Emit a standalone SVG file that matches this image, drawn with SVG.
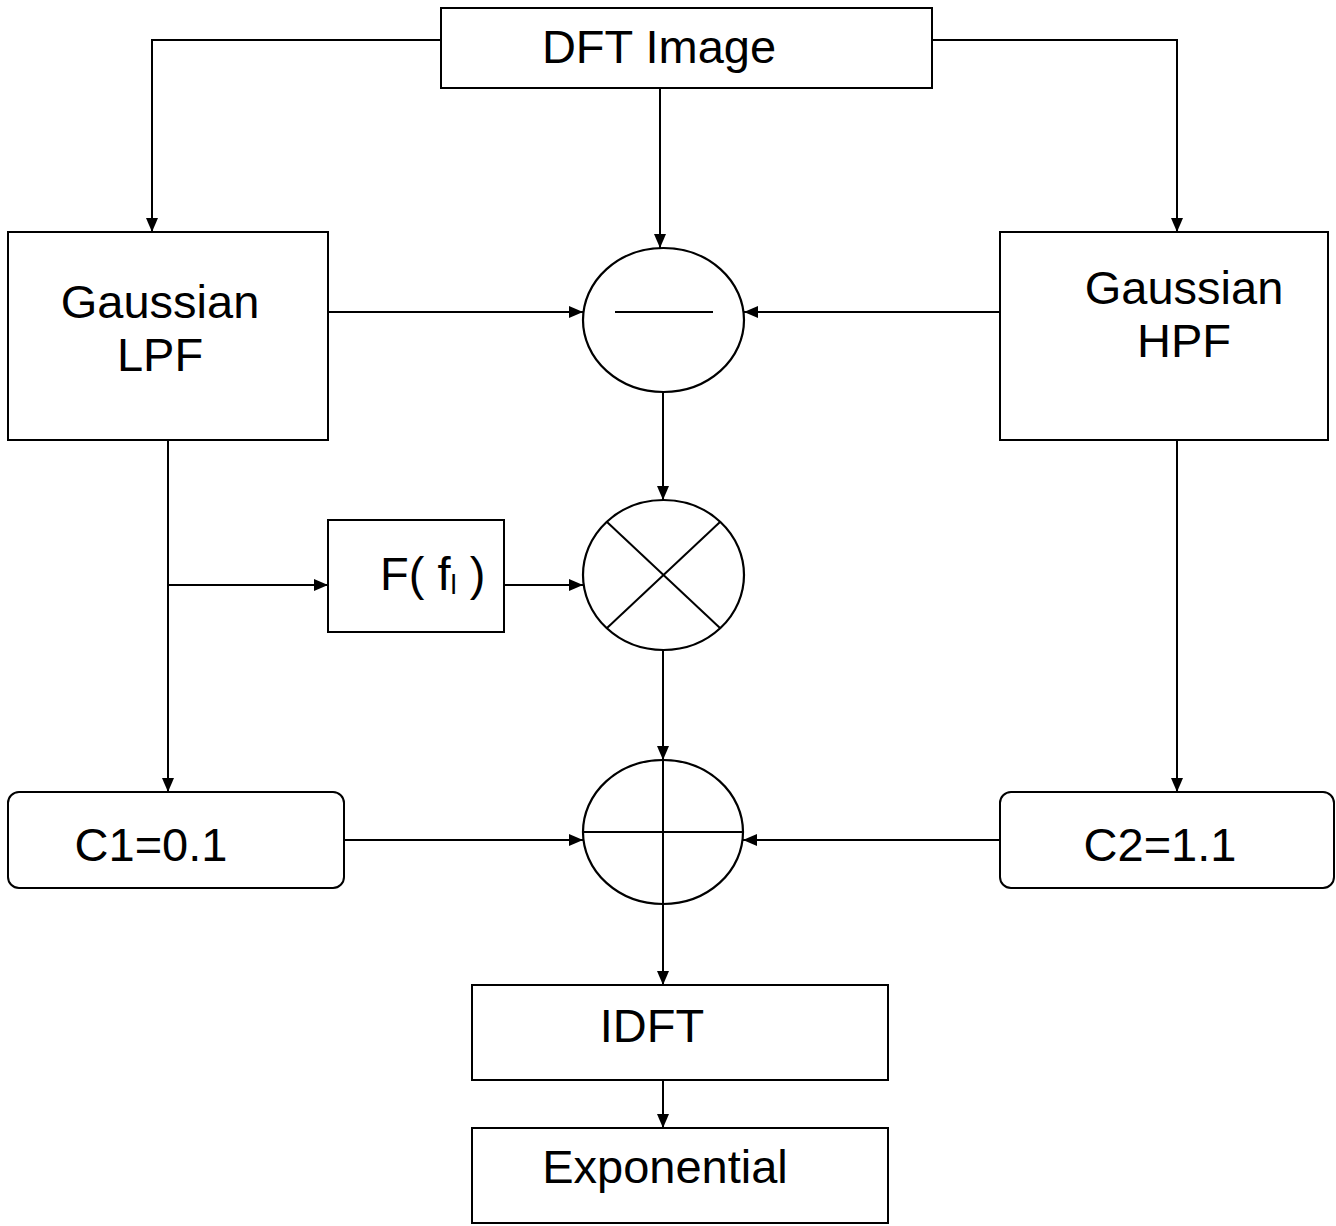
<svg xmlns="http://www.w3.org/2000/svg" width="1336" height="1226" viewBox="0 0 1336 1226">
  <defs>
    <marker id="arrow" viewBox="0 0 14 12" refX="14" refY="6" markerWidth="14" markerHeight="12" markerUnits="userSpaceOnUse" orient="auto">
      <path d="M0,0 L14,6 L0,12 Z" fill="#000"/>
    </marker>
  </defs>
  <style>
    .box { fill: #fff; stroke: #000; stroke-width: 2; }
    .op { fill: #fff; stroke: #000; stroke-width: 2.2; }
    .sym { stroke: #000; stroke-width: 2; fill: none; }
    .wire { stroke: #000; stroke-width: 2; fill: none; }
    .arr { marker-end: url(#arrow); }
    text { font-family: "Liberation Sans", Arial, sans-serif; font-size: 47px; fill: #000; text-anchor: middle; }
  </style>
  <rect width="1336" height="1226" fill="#fff"/>

  <g id="connectors">
    <polyline class="wire arr" points="441,40 152,40 152,232"/>
    <polyline class="wire arr" points="932,40 1177,40 1177,232"/>
    <line class="wire arr" x1="660" y1="88" x2="660" y2="248"/>
    <line class="wire arr" x1="328" y1="312" x2="583" y2="312"/>
    <line class="wire arr" x1="1000" y1="312" x2="744" y2="312"/>
    <line class="wire arr" x1="663" y1="392" x2="663" y2="500"/>
    <line class="wire arr" x1="168" y1="440" x2="168" y2="792"/>
    <line class="wire arr" x1="168" y1="585" x2="328" y2="585"/>
    <line class="wire arr" x1="504" y1="585" x2="583" y2="585"/>
    <line class="wire arr" x1="663" y1="650" x2="663" y2="760"/>
    <line class="wire arr" x1="1177" y1="440" x2="1177" y2="792"/>
    <line class="wire arr" x1="344" y1="840" x2="583" y2="840"/>
    <line class="wire arr" x1="1000" y1="840" x2="743" y2="840"/>
    <line class="wire arr" x1="663" y1="904" x2="663" y2="985"/>
    <line class="wire arr" x1="663" y1="1080" x2="663" y2="1128"/>
  </g>

  <g id="dft">
    <rect class="box" x="441" y="8" width="491" height="80"/>
    <text x="659" y="63">DFT Image</text>
  </g>

  <g id="lpf">
    <rect class="box" x="8" y="232" width="320" height="208"/>
    <text x="160" y="318">Gaussian</text>
    <text x="160" y="371">LPF</text>
  </g>

  <g id="hpf">
    <rect class="box" x="1000" y="232" width="328" height="208"/>
    <text x="1184" y="304">Gaussian</text>
    <text x="1184" y="357">HPF</text>
  </g>

  <g id="subtract">
    <ellipse class="op" cx="663.5" cy="320" rx="80.5" ry="72"/>
    <line class="sym" x1="615" y1="312" x2="713" y2="312"/>
  </g>

  <g id="multiply">
    <ellipse class="op" cx="663.5" cy="575" rx="80.5" ry="75"/>
    <line class="sym" x1="607" y1="522" x2="720" y2="628"/>
    <line class="sym" x1="720" y1="522" x2="607" y2="628"/>
  </g>

  <g id="fbox">
    <rect class="box" x="328" y="520" width="176" height="112"/>
    <text x="380" y="590" style="text-anchor:start">F( f<tspan font-size="28" dy="4">l</tspan><tspan dy="-4"> )</tspan></text>
  </g>

  <g id="add">
    <ellipse class="op" cx="663" cy="832" rx="80" ry="72"/>
    <line class="sym" x1="583" y1="832" x2="743" y2="832"/>
    <line class="sym" x1="663" y1="760" x2="663" y2="904"/>
  </g>

  <g id="c1">
    <rect class="box" x="8" y="792" width="336" height="96" rx="11" ry="11"/>
    <text x="151" y="861">C1=0.1</text>
  </g>

  <g id="c2">
    <rect class="box" x="1000" y="792" width="334" height="96" rx="11" ry="11"/>
    <text x="1160" y="861">C2=1.1</text>
  </g>

  <g id="idft">
    <rect class="box" x="472" y="985" width="416" height="95"/>
    <text x="652" y="1042">IDFT</text>
  </g>

  <g id="exp">
    <rect class="box" x="472" y="1128" width="416" height="95"/>
    <text x="665" y="1183">Exponential</text>
  </g>
</svg>
